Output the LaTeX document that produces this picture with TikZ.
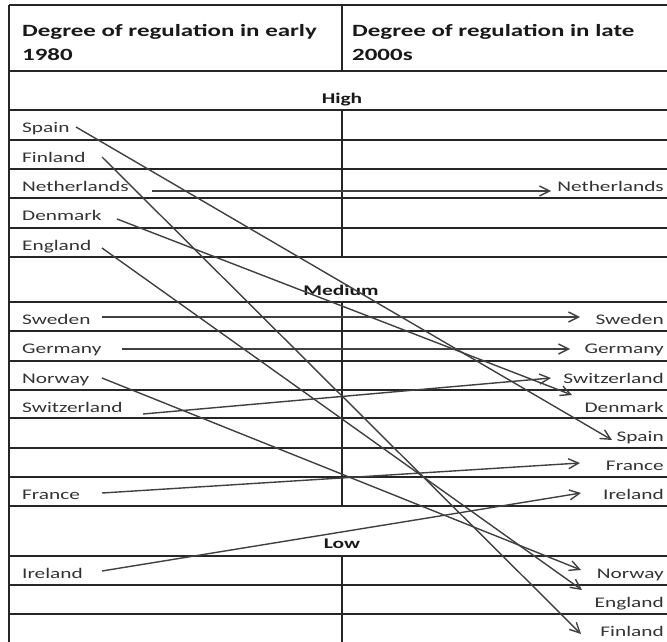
\documentclass[tikz,border=0pt]{standalone}
\usepackage{fontspec}
\setmainfont{Carlito}[FakeStretch=1.45]
\usetikzlibrary{arrows.meta}
\begin{document}
\begin{tikzpicture}[x=1pt,y=-1pt,
  grid/.style={draw=black!85, line width=1.8pt},
  lbl/.style={font=\fontsize{14.7}{16}\selectfont, text=black!80, inner sep=0pt, anchor=base west},
  rlbl/.style={lbl, anchor=base east},
  hdr/.style={font=\fontsize{17.2}{20}\selectfont\bfseries, text=black!90, inner sep=0pt, anchor=base west},
  sec/.style={font=\fontsize{14.8}{16}\selectfont\bfseries, text=black!90, inner sep=0pt, anchor=base},
  flow/.style={draw=black!75, line width=1.4pt, -{Straight Barb[length=10pt,width=10pt]}}]
\useasboundingbox (0,0) rectangle (667,642);
% table
\draw[grid, line width=2.4pt] (9,5) -- (9,642);
\foreach \yy in {5,71,110,140,169,198,228,257,302,331,361,390,418,448,477,506,556,585,614}
  \draw[grid] (9,\yy) -- (667,\yy);
\draw[grid] (342,5) -- (342,71);
\draw[grid] (342,110) -- (342,257);
\draw[grid] (342,302) -- (342,506);
\draw[grid] (342,556) -- (342,642);
% headers
\node[hdr] (hl1) at (22,37) {Degree of regulation in early};
\node[hdr] (hl2) at (22,61) {1980};
\node[hdr] (hr1) at (352,37) {Degree of regulation in late};
\node[hdr] (hr2) at (352,61) {2000s};
\node[sec] (high) at (342,103) {High};
\node[sec] (medium) at (341,295) {Medium};
\node[sec] (low) at (342,548) {Low};
% left labels
\node[lbl] (lSpain) at (22,132) {Spain};
\node[lbl] (lFinland) at (22,162) {Finland};
\node[lbl] (lNetherlands) at (22,191) {Netherlands};
\node[lbl] (lDenmark) at (22,220) {Denmark};
\node[lbl] (lEngland) at (22,250) {England};
\node[lbl] (lSweden) at (22,324) {Sweden};
\node[lbl] (lGermany) at (22,353) {Germany};
\node[lbl] (lNorway) at (22,383) {Norway};
\node[lbl] (lSwitzerland) at (22,412) {Switzerland};
\node[lbl] (lFrance) at (22,499) {France};
\node[lbl] (lIreland) at (22,578) {Ireland};
% right labels
\node[rlbl] (rNetherlands) at (664,191) {Netherlands};
\node[rlbl] (rSweden) at (664,324) {Sweden};
\node[rlbl] (rGermany) at (664,353) {Germany};
\node[rlbl] (rSwitzerland) at (664,383) {Switzerland};
\node[rlbl] (rDenmark) at (664,412) {Denmark};
\node[rlbl] (rSpain) at (664,441) {Spain};
\node[rlbl] (rFrance) at (664,470) {France};
\node[rlbl] (rIreland) at (664,499) {Ireland};
\node[rlbl] (rNorway) at (664,578) {Norway};
\node[rlbl] (rEngland) at (664,607) {England};
\node[rlbl] (rFinland) at (664,636) {Finland};
% arrow endpoints
\coordinate (sSpain) at (76,127);       \coordinate (eSpain) at (612,440);
\coordinate (sFinland) at (102,157);    \coordinate (eFinland) at (581,634);
\coordinate (sNetherlands) at (152,191);\coordinate (eNetherlands) at (551,191);
\coordinate (sDenmark) at (117,219);    \coordinate (eDenmark) at (572,395);
\coordinate (sEngland) at (102,248);    \coordinate (eEngland) at (582,590);
\coordinate (sSweden) at (102,317);     \coordinate (eSweden) at (580,317);
\coordinate (sGermany) at (122,349);    \coordinate (eGermany) at (570,349);
\coordinate (sNorway) at (102,378);     \coordinate (eNorway) at (581,570);
\coordinate (sSwitzerland) at (143,414);\coordinate (eSwitzerland) at (551,378);
\coordinate (sFrance) at (102,493);     \coordinate (eFrance) at (580,463);
\coordinate (sIreland) at (102,571);    \coordinate (eIreland) at (581,493);
\foreach \c in {Spain,Finland,Netherlands,Denmark,England,Sweden,Germany,Norway,Switzerland,France,Ireland}
  \draw[flow] (s\c) -- (e\c);
\end{tikzpicture}
\end{document}
